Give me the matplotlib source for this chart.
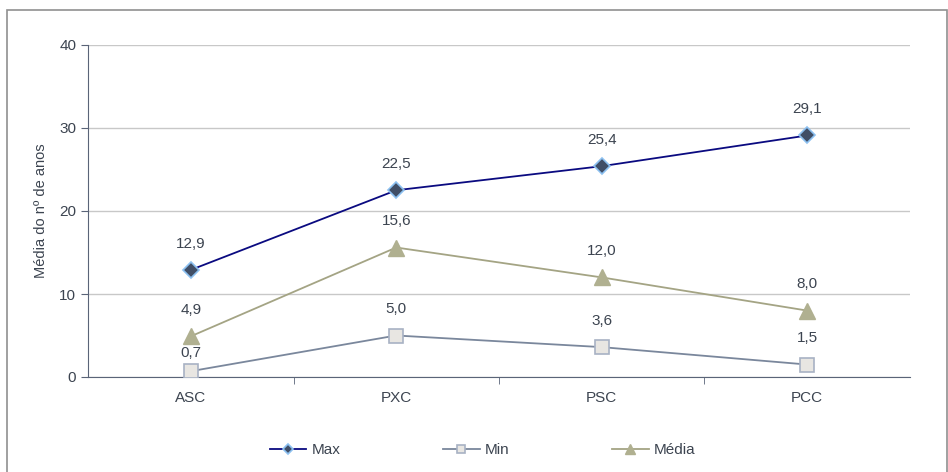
import matplotlib.pyplot as plt
from matplotlib.patches import Rectangle

categories = ['ASC', 'PXC', 'PSC', 'PCC']
max_vals = [12.9, 22.5, 25.4, 29.1]
min_vals = [0.7, 5.0, 3.6, 1.5]
media_vals = [4.9, 15.6, 12.0, 8.0]
yticks = [0, 10, 20, 30, 40]

txt = '#3c4450'
plt.rcParams['font.family'] = ['Liberation Sans', 'DejaVu Sans']

fig = plt.figure(figsize=(9.48, 4.72), dpi=100)
ax = fig.add_axes([88/948, 1-377/472, (910-88)/948, (377-45)/472])

x = range(len(categories))
ax.plot(x, max_vals, color='#0a0a80', lw=1.3, marker='D', ms=8,
        mfc='#404e66', mec='#8cc0f0', mew=1.2, label='Max', zorder=3)
ax.plot(x, min_vals, color='#7a879c', lw=1.3, marker='s', ms=10,
        mfc='#e8e6e2', mec='#a8b2c4', mew=1.2, label='Min', zorder=3)
ax.plot(x, media_vals, color='#a4a484', lw=1.3, marker='^', ms=11,
        mfc='#b0b090', mec='#b0b090', mew=1, label='Média', zorder=3)

for vals in (max_vals, min_vals, media_vals):
    for i, v in enumerate(vals):
        # labels very close to the axis sit a bit lower, as in the source
        off = 13 if v < 1 else 19
        ax.annotate(('%.1f' % v).replace('.', ','), (i, v), xytext=(0, off),
                    textcoords='offset points', ha='center', va='center',
                    fontsize=11, color=txt)

ax.set_xlim(-0.5, 3.5)
ax.set_ylim(0, 40)
ax.set_yticks(yticks)
ax.set_xticks(list(x))
ax.set_xticklabels(categories)
ax.yaxis.grid(True, color='#c8c8c8', lw=1)
ax.set_axisbelow(True)
for s in ('top', 'right'):
    ax.spines[s].set_visible(False)
for s in ('left', 'bottom'):
    ax.spines[s].set_color('#5a6478')
ax.set_xticks([0.5, 1.5, 2.5], minor=True)
ax.tick_params(axis='x', which='major', length=0, pad=10, labelsize=11, colors=txt)
ax.tick_params(axis='x', which='minor', length=5, direction='out', color='#5a6478')
ax.tick_params(axis='y', length=5, color='#5a6478', labelsize=11, labelcolor=txt)
ax.set_ylabel('Média do nº de anos', fontsize=10.5, color=txt, labelpad=8)

ax.legend(loc='center', bbox_to_anchor=(0.48, -0.22), ncol=3, frameon=False,
          fontsize=11, labelcolor=txt, columnspacing=6.7, handlelength=2.4,
          handletextpad=0.35, markerscale=0.6)

fig.patches.append(Rectangle((7/948, -0.1), 940/948, 1.1 - 10/472,
                             transform=fig.transFigure, fill=False,
                             ec='#909090', lw=1.2, clip_on=False))

plt.savefig('out.png', dpi=100)
